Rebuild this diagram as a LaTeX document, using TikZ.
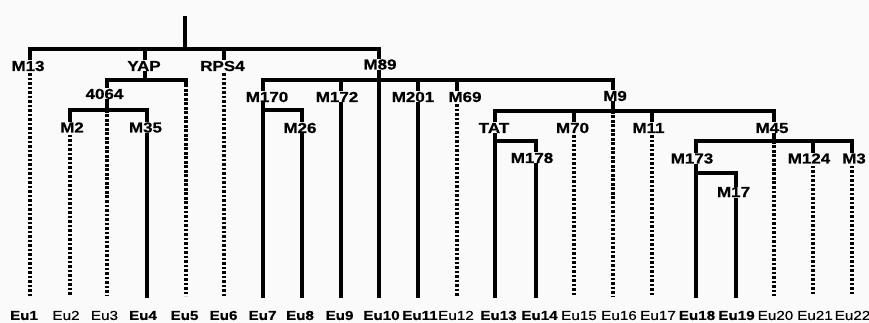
\documentclass[tikz,border=0pt]{standalone}
\usepackage{fontspec}
\newfontfamily\labfont[FakeStretch=1.17,BoldFeatures={FakeBold=0.6}]{Liberation Sans}
\newfontfamily\midfont[FakeStretch=1.17,FakeBold=0.25]{Liberation Sans}
\begin{document}
\begin{tikzpicture}[x=1pt,y=-1pt,
  lab/.style={font=\labfont\bfseries\fontsize{14.5}{14.5}\selectfont, inner xsep=1pt, inner ysep=2pt, text height=10pt, text depth=0pt},
  tip/.style={font=\labfont\fontsize{13}{13}\selectfont, inner sep=1pt, text height=9.3pt, text depth=0pt},
  sol/.style={line width=3.4pt, line cap=rect},
  dots/.style={line width=3.6pt, line cap=butt, dash pattern=on 2.6pt off 1.9pt}]
\fill[fill={rgb,255:red,250;green,250;blue,250}] (0,0) rectangle (869,323);
\useasboundingbox (0,0) rectangle (869,323);
% internal labels
\node[lab] (M13) at (28,66) {M13};
\node[lab] (YAP) at (144,66) {YAP};
\node[lab] (RPS4) at (222.5,66) {RPS4};
\node[lab] (M89) at (380,64.5) {M89};
\node[lab] (n4064) at (104.5,94) {4064};
\node[lab] (M2) at (72,127.5) {M2};
\node[lab] (M35) at (145.5,127.5) {M35};
\node[lab] (M170) at (267,97) {M170};
\node[lab] (M172) at (337,97) {M172};
\node[lab] (M201) at (413,97) {M201};
\node[lab] (M69) at (465,97) {M69};
\node[lab] (M9) at (615,96) {M9};
\node[lab] (M26) at (300,128) {M26};
\node[lab] (TAT) at (494,128) {TAT};
\node[lab] (M70) at (572.5,128) {M70};
\node[lab] (M11) at (648.5,128) {M11};
\node[lab] (M45) at (772,128) {M45};
\node[lab] (M178) at (532,158) {M178};
\node[lab] (M173) at (692,158.5) {M173};
\node[lab] (M124) at (809,158.5) {M124};
\node[lab] (M3) at (854,158.5) {M3};
\node[lab] (M17) at (733.5,192) {M17};
% tips: line x, label x
\foreach \i/\x/\lx/\w in {1/30/24/\bfseries,2/70/66/\midfont,3/107/104.5/\midfont,4/147/143/\bfseries,5/186/184.5/\bfseries,6/224/223.5/\bfseries,7/263/262.5/\bfseries,8/302/300/\bfseries,9/341/339.5/\bfseries,10/379/381.5/\bfseries,11/418/420/\bfseries,12/457/456/\midfont,13/495/498.5/\bfseries,14/536/539.5/\bfseries,15/574/579/\midfont,16/613/619/\midfont,17/652/658/\midfont,18/696/697/\bfseries,19/736/736.5/\bfseries,20/774/775.5/\midfont,21/813/815/\midfont,22/852/852.5/\midfont}{
  \coordinate (e\i) at (\x,296);
  \node[tip] (Eu\i) at (\lx,315.3) {\w Eu\i};
}
% bar levels and free coordinates
\coordinate (r) at (185,18);
\coordinate (yx) at (145,0);
\coordinate (b0) at (0,49);
\coordinate (b1) at (0,80);
\coordinate (b2) at (0,110);
\coordinate (b3) at (0,80);
\coordinate (b4) at (0,110);
\coordinate (b5) at (0,111);
\coordinate (b6) at (0,141);
\coordinate (b7) at (0,141);
\coordinate (b8) at (0,173);
% root
\draw[sol] (r) -- (r |- b0);
\draw[sol] (e1 |- b0) -- (e10 |- b0);
\draw[sol] (e1 |- b0) -- (e1 |- M13.north);
\draw[sol] (yx |- b0) -- (yx |- YAP.north);
\draw[sol] (e6 |- b0) -- (e6 |- RPS4.north);
\draw[sol] (e10 |- b0) -- (e10 |- M89.north);
% YAP
\draw[sol] (yx |- YAP.south) -- (yx |- b1);
\draw[sol] (e3 |- b1) -- (e5 |- b1);
\draw[sol] (e3 |- b1) -- (e3 |- n4064.north);
\draw[sol] (e5 |- b1) -- ++(0,4);
% 4064
\draw[sol] (e3 |- n4064.south) -- (e3 |- b2);
\draw[sol] (e2 |- b2) -- (e4 |- b2);
\draw[sol] (e2 |- b2) -- (e2 |- M2.north);
\draw[sol] (e4 |- b2) -- (e4 |- M35.north);
% M89
\draw[sol] (e7 |- b3) -- (e16 |- b3);
\draw[sol] (e7 |- b3) -- (e7 |- M170.north);
\draw[sol] (e9 |- b3) -- (e9 |- M172.north);
\draw[sol] (e11 |- b3) -- (e11 |- M201.north);
\draw[sol] (e12 |- b3) -- (e12 |- M69.north);
\draw[sol] (e16 |- b3) -- (e16 |- M9.north);
% M170
\draw[sol] (e7 |- b4) -- (e8 |- b4);
\draw[sol] (e8 |- b4) -- (e8 |- M26.north);
% M9
\draw[sol] (e16 |- M9.south) -- (e16 |- b5);
\draw[sol] (e13 |- b5) -- (e20 |- b5);
\draw[sol] (e13 |- b5) -- (e13 |- TAT.north);
\draw[sol] (e15 |- b5) -- (e15 |- M70.north);
\draw[sol] (e17 |- b5) -- (e17 |- M11.north);
\draw[sol] (e20 |- b5) -- (e20 |- M45.north);
% TAT
\draw[sol] (e13 |- b6) -- (e14 |- b6);
\draw[sol] (e14 |- b6) -- (e14 |- M178.north);
% M45
\draw[sol] (e20 |- M45.south) -- (e20 |- b7);
\draw[sol] (e18 |- b7) -- (e22 |- b7);
\draw[sol] (e18 |- b7) -- (e18 |- M173.north);
\draw[sol] (e21 |- b7) -- (e21 |- M124.north);
\draw[sol] (e22 |- b7) -- (e22 |- M3.north);
% M173
\draw[sol] (e18 |- b8) -- (e19 |- b8);
\draw[sol] (e19 |- b8) -- (e19 |- M17.north);
% leaf lines
\draw[dots] (e1 |- M13.south) -- (e1);
\draw[dots] (e2 |- M2.south) -- (e2);
\draw[dots] (e3 |- b2) -- (e3);
\draw[sol] (e4 |- M35.south) -- (e4);
\draw[dots] (e5 |- b1) -- (e5);
\draw[dots] (e6 |- RPS4.south) -- (e6);
\draw[sol] (e7 |- M170.south) -- (e7);
\draw[sol] (e8 |- M26.south) -- (e8);
\draw[sol] (e9 |- M172.south) -- (e9);
\draw[sol] (e10 |- M89.south) -- (e10);
\draw[sol] (e11 |- M201.south) -- (e11);
\draw[dots] (e12 |- M69.south) -- (e12);
\draw[sol] (e13 |- TAT.south) -- (e13);
\draw[sol] (e14 |- M178.south) -- (e14);
\draw[dots] (e15 |- M70.south) -- (e15);
\draw[dots] (e16 |- b5) -- (e16);
\draw[dots] (e17 |- M11.south) -- (e17);
\draw[sol] (e18 |- M173.south) -- (e18);
\draw[sol] (e19 |- M17.south) -- (e19);
\draw[dots] (e20 |- b7) -- (e20);
\draw[dots] (e21 |- M124.south) -- (e21);
\draw[dots] (e22 |- M3.south) -- (e22);
\end{tikzpicture}
\end{document}
